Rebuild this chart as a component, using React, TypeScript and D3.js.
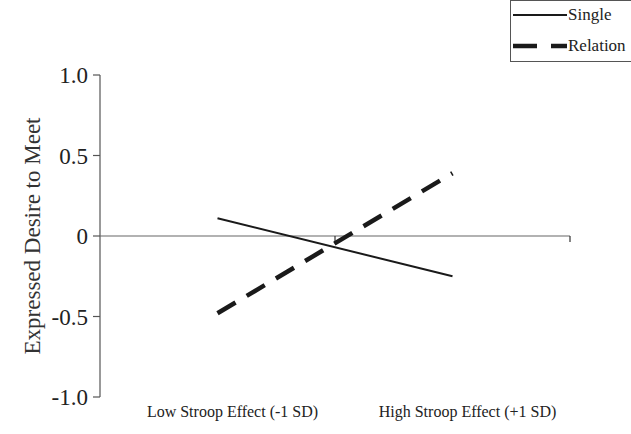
import React, { useEffect, useRef } from 'react'
import * as d3 from 'd3'

const categories = ['Low Stroop Effect (-1 SD)', 'High Stroop Effect (+1 SD)']
const singleValues = [0.11, -0.25]
const relationValues = [-0.48, 0.39]
const yTicks = [1.0, 0.5, 0, -0.5, -1.0]
const yTickLabels = ['1.0', '0.5', '0', '-0.5', '-1.0']
const seriesNames = ['Single', 'Relation']

const W = 631
const H = 434
const FONT = '"Liberation Serif", "Times New Roman", serif'

export default function App() {
  const ref = useRef<SVGSVGElement>(null)

  useEffect(() => {
    const svg = d3.select(ref.current)
    svg.selectAll('*').remove()

    const x = d3.scaleBand().domain(categories).range([100, 570])
    const y = d3.scaleLinear().domain([-1, 1]).range([397, 75])
    const cx = (c: string) => (x(c) as number) + x.bandwidth() / 2

    // y axis
    svg.append('line')
      .attr('x1', 100).attr('x2', 100)
      .attr('y1', y(1)).attr('y2', y(-1))
      .attr('stroke', '#555').attr('stroke-width', 1.2)
    svg.selectAll('line.ytick')
      .data(yTicks)
      .enter()
      .append('line')
        .attr('class', 'ytick')
        .attr('x1', 93).attr('x2', 100)
        .attr('y1', d => y(d)).attr('y2', d => y(d))
        .attr('stroke', '#555').attr('stroke-width', 1.2)
    svg.selectAll('text.ylab')
      .data(yTicks)
      .enter()
      .append('text')
        .attr('class', 'ylab')
        .attr('x', 88)
        .attr('y', d => y(d) + 8)
        .attr('text-anchor', 'end')
        .attr('font-family', FONT)
        .attr('font-size', 23)
        .attr('fill', '#222')
        .text((d, i) => yTickLabels[i])

    svg.append('text')
      .attr('transform', `translate(40, ${y(0)}) rotate(-90)`)
      .attr('text-anchor', 'middle')
      .attr('font-family', FONT)
      .attr('font-size', 23)
      .attr('fill', '#333')
      .text('Expressed Desire to Meet')

    // x axis at zero
    svg.append('line')
      .attr('x1', 100).attr('x2', 570)
      .attr('y1', y(0)).attr('y2', y(0))
      .attr('stroke', '#666').attr('stroke-width', 1.2)
    const xTickPos = [x.bandwidth() + 100, 570]
    svg.selectAll('line.xtick')
      .data(xTickPos)
      .enter()
      .append('line')
        .attr('class', 'xtick')
        .attr('x1', d => d).attr('x2', d => d)
        .attr('y1', y(0)).attr('y2', y(0) + 6)
        .attr('stroke', '#333').attr('stroke-width', 1.2)

    svg.selectAll('text.xlab')
      .data(categories)
      .enter()
      .append('text')
        .attr('class', 'xlab')
        .attr('x', d => cx(d) + 15)
        .attr('y', 417)
        .attr('text-anchor', 'middle')
        .attr('font-family', FONT)
        .attr('font-size', 16)
        .attr('fill', '#222')
        .text(d => d)

    const line = d3.line<number>()
      .x((d, i) => cx(categories[i]))
      .y(d => y(d))

    svg.append('path')
      .datum(singleValues)
      .attr('d', line)
      .attr('fill', 'none')
      .attr('stroke', '#1a1a1a')
      .attr('stroke-width', 2)

    svg.append('path')
      .datum(relationValues)
      .attr('d', line)
      .attr('fill', 'none')
      .attr('stroke', '#1a1a1a')
      .attr('stroke-width', 4.5)
      .attr('stroke-dasharray', '21 13')

    // legend
    const lg = svg.append('g')
    lg.append('rect')
      .attr('x', 510.5).attr('y', 0.5)
      .attr('width', 130).attr('height', 61)
      .attr('fill', 'white')
      .attr('stroke', '#555').attr('stroke-width', 1)
    const items = lg.selectAll('g.item')
      .data(seriesNames)
      .enter()
      .append('g')
        .attr('class', 'item')
        .attr('transform', (d, i) => `translate(0, ${15 + i * 31})`)
    items.append('line')
      .attr('x1', 513).attr('x2', 567)
      .attr('y1', 0).attr('y2', 0)
      .attr('stroke', '#1a1a1a')
      .attr('stroke-width', (d, i) => (i === 0 ? 2 : 4.5))
      .attr('stroke-dasharray', (d, i) => (i === 0 ? null : '24 14'))
    items.append('text')
      .attr('x', 568)
      .attr('y', 5)
      .attr('font-family', FONT)
      .attr('font-size', 17)
      .attr('fill', '#222')
      .text(d => d)
  }, [])

  return <svg ref={ref} width={W} height={H} style={{ position: 'absolute', left: 0, top: 0, background: 'white' }} />
}
